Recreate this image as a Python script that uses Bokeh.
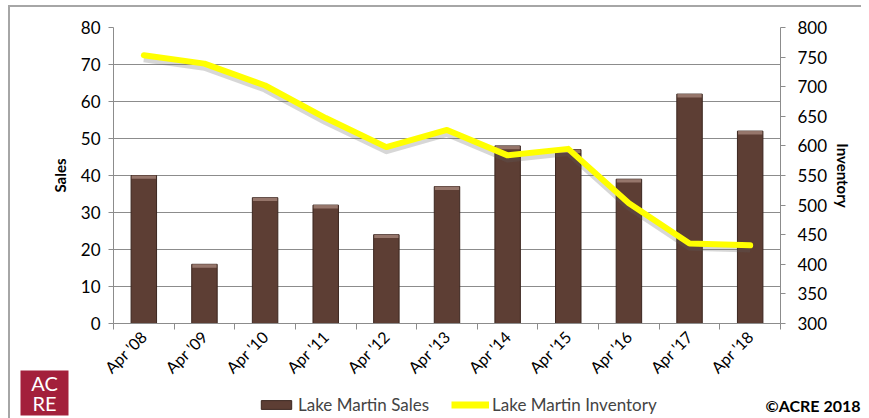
import numpy as np
from bokeh.plotting import figure
from bokeh.layouts import column
from bokeh.models import (Range1d, LinearAxis, FixedTicker, Legend, LegendItem,
                          Label, BoxAnnotation, ColumnDataSource, InlineStyleSheet)
from bokeh.embed import file_html
from bokeh.resources import INLINE

categories = ["Apr '08", "Apr '09", "Apr '10", "Apr '11", "Apr '12", "Apr '13",
              "Apr '14", "Apr '15", "Apr '16", "Apr '17", "Apr '18"]
sales = [40, 16, 34, 32, 24, 37, 48, 47, 39, 62, 52]
inventory = [753, 739, 702, 647, 598, 627, 584, 595, 503, 435, 432]
sales_ticks = [0, 10, 20, 30, 40, 50, 60, 70, 80]
inv_ticks = [300, 350, 400, 450, 500, 550, 600, 650, 700, 750, 800]
series_names = ["Lake Martin Sales", "Lake Martin Inventory"]

FONT = "Lato"
GRAY = "#8c8c8c"
BAR = "#5d3e34"
BAR_EDGE = "#3b261f"
YELLOW = "#ffff00"

n = len(categories)
xpos = [i + 0.5 for i in range(n)]
src = ColumnDataSource(dict(x=xpos, sales=sales, inv=inventory,
                            cap=[s - 0.9 for s in sales],
                            shadow=[v - 6 for v in inventory]))

border_css = InlineStyleSheet(css="""
:host {
  background:
    linear-gradient(#a6a6a6, #a6a6a6) 8px 5px / 853px 2px no-repeat,
    linear-gradient(#a6a6a6, #a6a6a6) 8px 5px / 2px 420px no-repeat,
    #ffffff;
}
""")

p = figure(width=869, height=418, output_backend="svg", toolbar_location=None,
           x_range=Range1d(0, n), y_range=Range1d(0, 80),
           min_border_left=113, min_border_right=89, min_border_top=27,
           min_border_bottom=95, stylesheets=[border_css])
p.frame_align = False
p.outline_line_color = None
p.background_fill_color = "white"
p.border_fill_color = None
p.extra_y_ranges = {"inv": Range1d(300, 800)}

p.vbar(x="x", top="sales", bottom=0, width=0.42, source=src,
       fill_color=BAR, line_color=BAR_EDGE, line_width=1)
p.vbar(x="x", top="sales", bottom="cap", width=0.40, source=src,
       fill_color="#a08076", line_color=None, fill_alpha=0.85)
p.line(x="x", y="shadow", source=src, y_range_name="inv",
       line_color="#606060", line_alpha=0.25, line_width=7, line_join="round")
p.line(x="x", y="inv", source=src, y_range_name="inv",
       line_color=YELLOW, line_width=6, line_join="round", line_cap="round")

xa = p.xaxis[0]
xa.ticker = FixedTicker(ticks=xpos, minor_ticks=list(range(n + 1)))
xa.major_label_overrides = {x: c for x, c in zip(xpos, categories)}
xa.major_label_orientation = np.pi / 4
xa.major_tick_out = 0
xa.major_tick_in = 0
xa.minor_tick_out = 6
xa.minor_tick_in = 0
xa.minor_tick_line_color = GRAY
xa.axis_line_color = GRAY
xa.major_label_text_font = FONT
xa.major_label_text_font_size = "16px"
xa.major_label_text_color = "black"
xa.major_label_standoff = 4

ya = p.yaxis[0]
ya.ticker = FixedTicker(ticks=sales_ticks)
ya.axis_label = "Sales"
ya.axis_label_text_font = FONT
ya.axis_label_text_font_style = "bold"
ya.axis_label_text_font_size = "15px"
ya.axis_label_text_color = "black"
ya.axis_label_standoff = 9
ya.major_tick_out = 5
ya.major_tick_in = 0
ya.minor_tick_line_color = None
ya.axis_line_color = GRAY
ya.major_tick_line_color = GRAY
ya.major_label_text_font = FONT
ya.major_label_text_font_size = "17px"
ya.major_label_text_color = "black"
ya.major_label_standoff = 8

ra = LinearAxis(y_range_name="inv", ticker=FixedTicker(ticks=inv_ticks),
                axis_label="Inventory")
ra.axis_label_text_font = FONT
ra.axis_label_text_font_style = "bold"
ra.axis_label_text_font_size = "15px"
ra.axis_label_text_color = "black"
ra.axis_label_standoff = 4
ra.major_tick_out = 5
ra.major_tick_in = 0
ra.minor_tick_line_color = None
ra.axis_line_color = GRAY
ra.major_tick_line_color = GRAY
ra.major_label_text_font = FONT
ra.major_label_text_font_size = "17px"
ra.major_label_text_color = "black"
ra.major_label_standoff = 12
p.add_layout(ra, "right")

p.xgrid.grid_line_color = None
p.ygrid.grid_line_color = GRAY
p.ygrid.grid_line_width = 1
p.ygrid.ticker = FixedTicker(ticks=sales_ticks)

# ---- footer strip (legend, logo, copyright), overlapping the bottom of p ----
FH = 52
f = figure(width=869, height=FH, output_backend="svg", toolbar_location=None,
           x_range=Range1d(0, 869), y_range=Range1d(0, FH),
           x_axis_location=None, y_axis_location=None,
           min_border=0, margin=(-FH, 0, 0, 0))
f.frame_align = False
f.outline_line_color = None
f.background_fill_color = None
f.border_fill_color = None
f.xgrid.visible = False
f.ygrid.visible = False

# legend swatches: same styles as the chart's series (renderers kept hidden)
leg_bar = f.vbar(x="x", top="sales", width=0.42, source=src,
                 fill_color=BAR, line_color=BAR_EDGE, visible=False)
leg_line = f.line(x="x", y="inv", source=src, line_color=YELLOW, line_width=7,
                  visible=False)

legend = Legend(items=[LegendItem(label=series_names[0], renderers=[leg_bar]),
                       LegendItem(label=series_names[1], renderers=[leg_line])],
                orientation="horizontal", location=(257, 3),
                label_text_font=FONT, label_text_font_size="17px",
                label_standoff=3, glyph_width=38, glyph_height=11, spacing=22,
                background_fill_alpha=0, border_line_color=None, padding=0,
                margin=0)
f.add_layout(legend, "center")

logo_box = BoxAnnotation(left=20, right=68, bottom=3, top=48,
                         fill_color="#a3203b", fill_alpha=1, line_color=None)
f.add_layout(logo_box)
f.add_layout(Label(x=44, y=24, text="AC", text_align="center",
                   text_baseline="bottom", text_font=FONT, text_font_size="20px",
                   text_color="white"))
f.add_layout(Label(x=44, y=4, text="RE", text_align="center",
                   text_baseline="bottom", text_font=FONT, text_font_size="20px",
                   text_color="white"))
f.add_layout(Label(x=860, y=4, text="©ACRE 2018", text_align="right",
                   text_baseline="bottom", text_font=FONT, text_font_size="16px",
                   text_font_style="bold", text_color="black"))

layout = column(p, f, spacing=0)
open("out.html", "w").write(file_html(layout, INLINE))
